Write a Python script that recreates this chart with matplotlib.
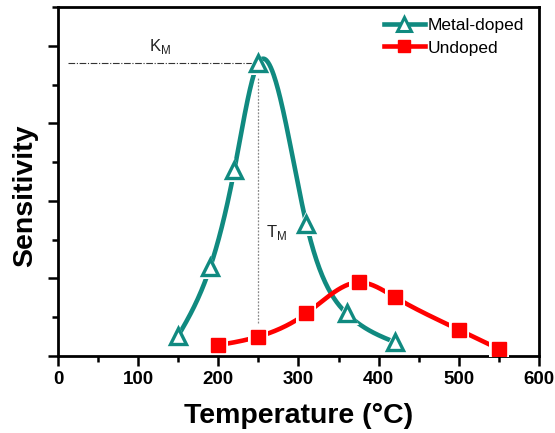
import numpy as np
import matplotlib
matplotlib.use("Agg")
import matplotlib.pyplot as plt
from matplotlib.ticker import MultipleLocator
from matplotlib.lines import Line2D

# Data
metal_T = [150, 190, 220, 250, 310, 360, 420]
metal_S = [0.26, 1.15, 2.40, 3.78, 1.70, 0.55, 0.18]
undoped_T = [200, 250, 310, 375, 420, 500, 550]
undoped_S = [0.14, 0.25, 0.55, 0.95, 0.76, 0.34, 0.09]
x_ticks = [0, 100, 200, 300, 400, 500, 600]
km_value = 3.78
tm_value = 250

teal = "#108a80"
red = "#ff0000"

plt.rcParams['font.family'] = ['Liberation Sans', 'DejaVu Sans']


def natural_spline(x, y, n=300):
    x = np.asarray(x, float)
    y = np.asarray(y, float)
    m = len(x)
    h = np.diff(x)
    A = np.zeros((m, m))
    b = np.zeros(m)
    A[0, 0] = A[-1, -1] = 1
    for i in range(1, m - 1):
        A[i, i - 1] = h[i - 1]
        A[i, i] = 2 * (h[i - 1] + h[i])
        A[i, i + 1] = h[i]
        b[i] = 3 * ((y[i + 1] - y[i]) / h[i] - (y[i] - y[i - 1]) / h[i - 1])
    c = np.linalg.solve(A, b)
    xs = np.linspace(x[0], x[-1], n)
    ys = np.empty_like(xs)
    for k, xv in enumerate(xs):
        i = min(np.searchsorted(x, xv, side='right') - 1, m - 2)
        bi = (y[i + 1] - y[i]) / h[i] - h[i] * (2 * c[i] + c[i + 1]) / 3
        di = (c[i + 1] - c[i]) / (3 * h[i])
        dx = xv - x[i]
        ys[k] = y[i] + bi * dx + c[i] * dx ** 2 + di * dx ** 3
    return xs, ys


fig = plt.figure(figsize=(5.55, 4.33), dpi=100)
ax = fig.add_axes([0.1045, 0.1778, 0.8665, 0.806])

# reference lines
ax.plot([12, tm_value], [km_value, km_value], color="#333333", lw=0.8,
        ls=(0, (6, 1.5, 1, 1.5)))
ax.plot([tm_value, tm_value], [0.42, 3.58], color="#888888", lw=0.9, ls=(0, (1.5, 1.2)))
ax.text(127, 3.93, r"K$_{\mathregular{M}}$", fontsize=12, color="#222222", ha="center")
ax.text(259, 1.53, r"T$_{\mathregular{M}}$", fontsize=12, color="#222222", ha="left")

xs, ys = natural_spline(metal_T, metal_S)
ax.plot(xs, ys, color=teal, lw=3.3, solid_capstyle='round', zorder=3)
xs2, ys2 = natural_spline(undoped_T, undoped_S)
ax.plot(xs2, ys2, color=red, lw=3.3, solid_capstyle='round', zorder=3)

# white gaps around markers
ax.plot(metal_T, metal_S, ls='none', marker='^', ms=17, mfc='white', mec='white', mew=0, zorder=4)
ax.plot(undoped_T, undoped_S, ls='none', marker='s', ms=15, mfc='white', mec='white', mew=0, zorder=4)
ax.plot(metal_T, metal_S, ls='none', marker='^', ms=12, mfc='white', mec=teal, mew=2.4, zorder=5)
ax.plot(undoped_T, undoped_S, ls='none', marker='s', ms=10, mfc=red, mec=red, mew=1, zorder=5)

ax.set_xlim(0, 600)
ax.set_ylim(0, 4.5)
ax.set_xticks(x_ticks)
ax.xaxis.set_minor_locator(MultipleLocator(50))
ax.yaxis.set_major_locator(MultipleLocator(1))
ax.yaxis.set_minor_locator(MultipleLocator(0.5))
ax.set_yticklabels([])
ax.tick_params(which='major', direction='out', length=7, width=1.8, labelsize=13.5)
ax.tick_params(which='minor', direction='out', length=4, width=1.8)
for lab in ax.get_xticklabels():
    lab.set_fontweight('bold')
for sp in ax.spines.values():
    sp.set_linewidth(2)

ax.set_xlabel("Temperature (°C)", fontsize=20.5, fontweight='bold', labelpad=11)
ax.set_ylabel("Sensitivity", fontsize=20.5, fontweight='bold', va='center')
ax.yaxis.set_label_coords(-0.069, 0.458)

h1 = Line2D([], [], color=teal, lw=3.3, marker='^', ms=10, mfc='white', mec=teal, mew=2.2)
h2 = Line2D([], [], color=red, lw=3.3, marker='s', ms=8, mfc=red, mec=red)
ax.legend([h1, h2], ["Metal-doped", "Undoped"], loc='upper right', frameon=False,
          fontsize=12.5, handlelength=2.4, handletextpad=0.15, borderaxespad=0.25,
          labelspacing=0.4, bbox_to_anchor=(0.993, 1.0))

fig.savefig("out.png", dpi=100)
